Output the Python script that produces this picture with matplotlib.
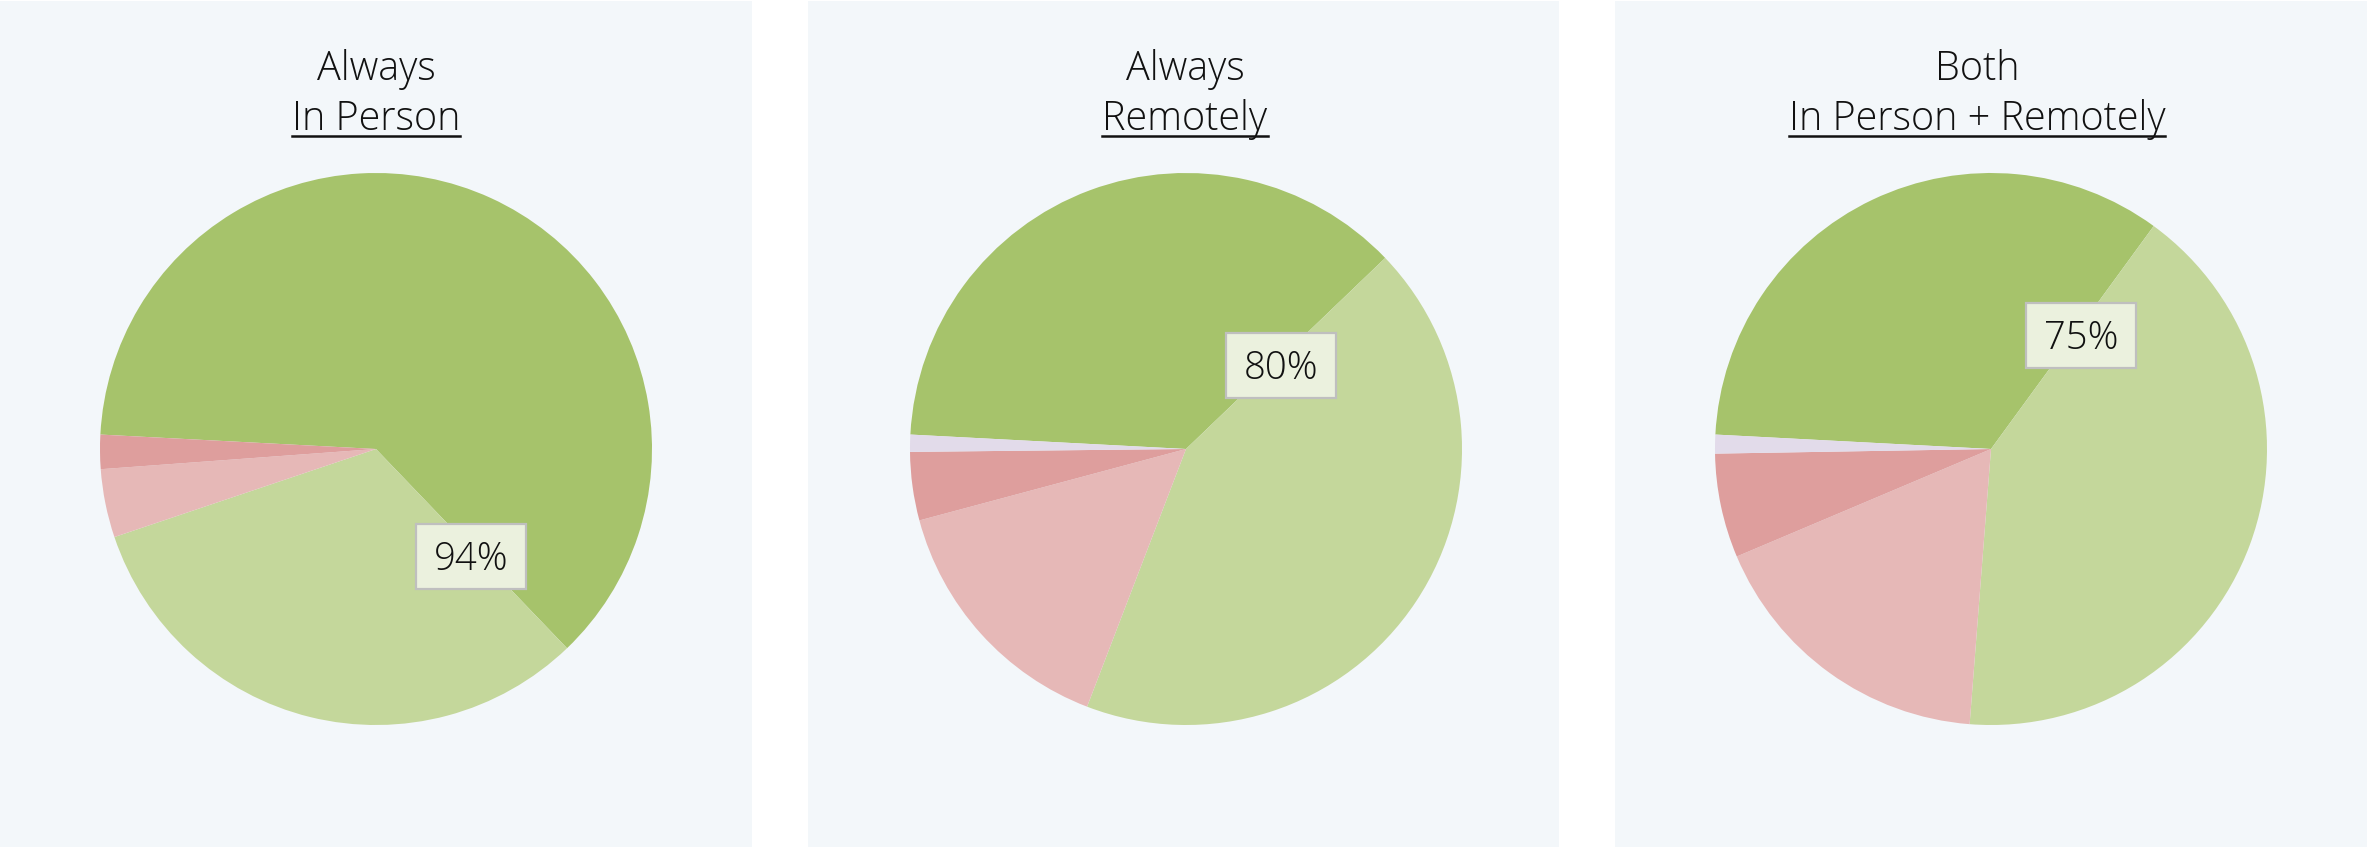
import matplotlib
matplotlib.use("Agg")
import matplotlib.pyplot as plt
from matplotlib.patches import Rectangle
from matplotlib.lines import Line2D
import numpy as np

# Share of responses per level (strongly agree, agree, disagree, strongly disagree, n/a)
title_top = ["Always", "Always", "Both"]
title_bottom = ["In Person", "Remotely", "In Person + Remotely"]
in_person = [62, 32, 4, 2, 0]
remotely = [37, 43, 15, 4, 1]
both = [34.2, 41.2, 17.4, 6.1, 1.1]
slice_colors = ["#a6c36b", "#c4d79b", "#e6b8b7", "#de9e9d", "#e2dbea"]

series = [in_person, remotely, both]

# ---- layout (pixels) ----
W, H = 2367, 847
DPI = 100
FONT = ["Open Sans", "DejaVu Sans"]
panel_edges = [(0, 752), (808, 1559), (1615, 2367)]
pie_cx = [376, 1186, 1991]
pie_cy = 449
R = 276
title_cx = [376, 1185, 1977]
label_r = [0.52, 0.458, 0.525]
START = 177

fig = plt.figure(figsize=(W / DPI, H / DPI), dpi=DPI)
fig.patch.set_facecolor("white")


def fx(px):
    return px / W


def fy(py):
    return 1 - py / H


# panel backgrounds
for x0, x1 in panel_edges:
    fig.add_artist(Rectangle((fx(x0), 0), (x1 - x0) / W, (H - 1) / H,
                             transform=fig.transFigure, facecolor="#f3f7fa",
                             edgecolor="none", zorder=0))

titles_under = []
for i, values in enumerate(series):
    half = 1.15 * R
    ax = fig.add_axes([fx(pie_cx[i] - half), fy(pie_cy + half), 2 * half / W, 2 * half / H])
    ax.pie(values, colors=slice_colors, startangle=START, counterclock=False,
           radius=1, wedgeprops=dict(linewidth=0, antialiased=True))
    ax.set_xlim(-1.15, 1.15)
    ax.set_ylim(-1.15, 1.15)
    ax.set_aspect("equal")
    ax.axis("off")

    total = sum(values)
    favourable = values[0] + values[1]
    boundary = np.deg2rad(START - 360 * values[0] / total - 2.5)
    lx, ly = label_r[i] * np.cos(boundary), label_r[i] * np.sin(boundary)
    bw, bh = 110 / R, 65 / R
    ax.add_patch(Rectangle((lx - bw / 2, ly - bh / 2), bw, bh, facecolor="#ebf1de",
                           edgecolor="#bfbfbf", linewidth=1.6, zorder=3))
    ax.text(lx, ly - 13.5 / R, f"{round(100 * favourable / total)}%", ha="center",
            va="baseline", fontsize=27.5, family=FONT, fontweight=300,
            color="#111111", zorder=4)

    fig.text(fx(title_cx[i]), fy(80), title_top[i], ha="center", va="baseline",
             fontsize=28.5, family=FONT, fontweight=300, color="#111111")
    t = fig.text(fx(title_cx[i]), fy(130), title_bottom[i], ha="center", va="baseline",
                 fontsize=28.5, family=FONT, fontweight=300, color="#111111")
    titles_under.append(t)

# underline the second title line
fig.canvas.draw()
renderer = fig.canvas.get_renderer()
for t in titles_under:
    bb = t.get_window_extent(renderer)
    fig.add_artist(Line2D([bb.x0 / W, bb.x1 / W], [fy(136.5), fy(136.5)],
                          transform=fig.transFigure, color="#111111", linewidth=1.8))

fig.savefig("out.png", dpi=DPI, facecolor=fig.get_facecolor())
